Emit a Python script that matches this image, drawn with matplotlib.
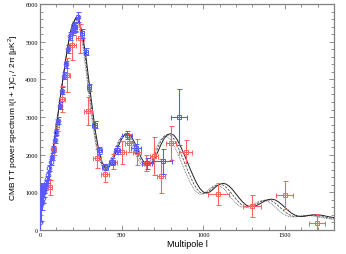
import matplotlib
matplotlib.use("Agg")
import matplotlib.pyplot as plt
from matplotlib.ticker import MultipleLocator

# ---- theory curves ----
ell_th = [2, 10] + list(range(20, 201, 10)) + list(range(220, 1801, 20))
solid = [1000, 850, 880, 1000, 1150, 1350, 1600, 1870, 2150, 2440, 2750, 3070,
         3400, 3700, 4000, 4300, 4600, 4870, 5100, 5300, 5450, 5640, 5560, 5200,
         4650, 3950, 3250, 2600, 2120, 1800, 1650, 1660, 1800, 2000, 2230, 2420,
         2540, 2560, 2480, 2320, 2120, 1920, 1780, 1720, 1760, 1880, 2060, 2260,
         2430, 2530, 2560, 2520, 2400, 2230, 2040, 1830, 1620, 1420, 1240, 1100,
         1010, 980, 1010, 1080, 1160, 1220, 1240, 1220, 1160, 1070, 960, 850,
         750, 670, 630, 620, 640, 680, 730, 780, 810, 820, 800, 750, 680, 600,
         520, 450, 400, 370, 360, 365, 380, 395, 405, 405, 395, 380, 360, 345, 330]
dashed = [1000, 850, 880, 1000, 1150, 1350, 1600, 1870, 2150, 2440, 2750, 3070,
          3400, 3700, 4000, 4300, 4600, 4870, 5100, 5320, 5490, 5640, 5510, 5090,
          4490, 3760, 3050, 2430, 1990, 1720, 1625, 1680, 1860, 2080, 2310, 2480,
          2550, 2530, 2410, 2220, 2005, 1820, 1720, 1710, 1800, 1960, 2170, 2360,
          2490, 2530, 2510, 2420, 2250, 2060, 1850, 1630, 1430, 1240, 1097, 1000,
          963, 988, 1053, 1133, 1194, 1215, 1195, 1135, 1044, 934, 825, 727, 652,
          616, 611, 634, 676, 725, 771, 796, 799, 770, 715, 642, 562, 486, 423,
          380, 359, 355, 365, 379, 392, 397, 392, 379, 362, 345, 329, 316, 309]
dotted = [1000, 850, 880, 1000, 1150, 1350, 1600, 1870, 2150, 2440, 2750, 3070,
          3400, 3700, 4000, 4300, 4600, 4870, 5100, 5340, 5510, 5600, 5400, 4940,
          4290, 3560, 2870, 2300, 1905, 1690, 1645, 1745, 1935, 2160, 2360, 2490,
          2520, 2445, 2285, 2080, 1880, 1745, 1695, 1745, 1875, 2060, 2255, 2405,
          2480, 2480, 2400, 2250, 2070, 1865, 1655, 1450, 1260, 1105, 1000, 950,
          962, 1022, 1100, 1163, 1188, 1172, 1115, 1027, 918, 810, 712, 638, 603,
          599, 624, 666, 716, 758, 781, 779, 747, 687, 612, 534, 460, 402, 365,
          348, 349, 361, 376, 387, 389, 380, 366, 346, 331, 317, 305, 293, 283]

# ---- blue data (circles) ----
bc_l = [2, 4, 6, 8, 10, 13, 16, 19, 23, 27, 32, 38, 44, 51, 58, 66, 74, 82,
        91, 100, 110, 121, 132, 144, 157, 170, 185, 200, 215, 232]
bc_d = [200, 700, 850, 1000, 750, 900, 1050, 850, 1000, 1100, 1150, 1250, 1350,
        1450, 1650, 1800, 1950, 2150, 2400, 2600, 2900, 3300, 3700, 4100, 4400,
        4800, 5150, 5350, 5400, 5650]
bc_dy = [1000, 450, 330, 260, 220, 180, 160, 140, 120, 110, 100, 90, 90, 85,
         85, 85, 85, 85, 85, 85, 90, 90, 95, 100, 100, 110, 110, 120, 120, 130]
bc_dx = [0, 1, 1, 1, 1, 1, 1, 1, 2, 2, 3, 3, 3, 4, 4, 4, 4, 4, 5, 5, 5, 6, 6,
         6, 7, 7, 8, 8, 8, 9]

# ---- blue data (squares) ----
bs_l = [200, 215, 255, 280, 302, 335, 363, 400, 439, 473, 531, 588, 653, 751, 853]
bs_d = [5300, 5380, 5220, 4740, 3790, 2800, 2120, 1665, 1815, 2120, 2520, 2170,
        1770, 1825, 3000]
bs_dy = [120, 120, 110, 100, 100, 90, 90, 80, 90, 100, 110, 120, 140, 330, 750]
bs_dx = [10, 10, 12, 12, 12, 15, 15, 18, 18, 18, 30, 30, 30, 60, 50]

# ---- red data (squares) ----
rs_l = [61, 86, 102, 137, 163, 198, 245, 296, 347, 400, 449, 500, 547, 592,
        649, 698, 741, 800, 894, 1092, 1296, 1500, 1698]
rs_d = [1130, 2150, 2790, 3480, 4115, 4910, 5090, 3170, 1900, 1487, 1815, 2060,
        2310, 2080, 1780, 1970, 1440, 2310, 2080, 955, 628, 930, 186]
rs_dy = [200, 150, 150, 350, 450, 400, 380, 370, 250, 200, 200, 300, 250, 350,
         200, 500, 450, 440, 300, 300, 290, 370, 250]
rs_dx = [15, 12, 12, 15, 20, 20, 25, 25, 25, 25, 25, 25, 25, 25, 25, 25, 25, 30,
         40, 65, 55, 52, 50]

plt.rcParams['font.family'] = ['Liberation Sans', 'DejaVu Sans']

fig = plt.figure(figsize=(3.46, 2.55), dpi=100)
ax = fig.add_axes([0.1156, 0.094, 0.8494, 0.886])

blue = '#5a5aff'
red = '#ff6262'

ax.plot(ell_th, dotted, color='#606060', lw=0.6, ls=(0, (1, 1)), zorder=3)
ax.plot(ell_th, dashed, color='#505050', lw=0.6, ls=(0, (3, 1.5)), zorder=3)
ax.plot(ell_th, solid, color='#202020', lw=0.7, ls='-', zorder=3)

common = dict(ms=3.3, mfc='none', elinewidth=0.8, capsize=1.8, capthick=0.7,
              mew=0.7)
ax.errorbar(rs_l, rs_d, yerr=rs_dy, xerr=rs_dx, fmt='s', color=red,
            mec=red, ecolor=red, zorder=4, **common)
ax.errorbar(bc_l, bc_d, yerr=bc_dy, xerr=bc_dx, fmt='o', color=blue,
            mec=blue, ecolor=blue, zorder=5, **common)
ax.errorbar(bs_l, bs_d, yerr=bs_dy, xerr=bs_dx, fmt='s', color=blue,
            mec=blue, ecolor=blue, zorder=5, **common)

ax.set_xlim(0, 1800)
ax.set_ylim(0, 6000)
ax.xaxis.set_major_locator(MultipleLocator(500))
ax.xaxis.set_minor_locator(MultipleLocator(100))
ax.yaxis.set_major_locator(MultipleLocator(1000))
ax.yaxis.set_minor_locator(MultipleLocator(200))

for sp in ax.spines.values():
    sp.set_color('#808080')
    sp.set_linewidth(0.9)
ax.tick_params(which='both', direction='in', top=True, right=True,
               color='#808080', width=0.6)
ax.tick_params(which='major', length=3.5, pad=1.5)
ax.tick_params(which='minor', length=2)
for lab in ax.get_xticklabels() + ax.get_yticklabels():
    lab.set_fontfamily('Liberation Serif')
    lab.set_fontsize(4.5)

ax.set_xlabel('Multipole l', fontsize=6.5, labelpad=1)
ax.set_ylabel(r'CMB TT power spectrum l(l + 1)C$_\mathregular{l}$ / 2π [μK$^\mathregular{2}$]',
              fontsize=6, labelpad=4)

fig.savefig('out.png', dpi=100)
